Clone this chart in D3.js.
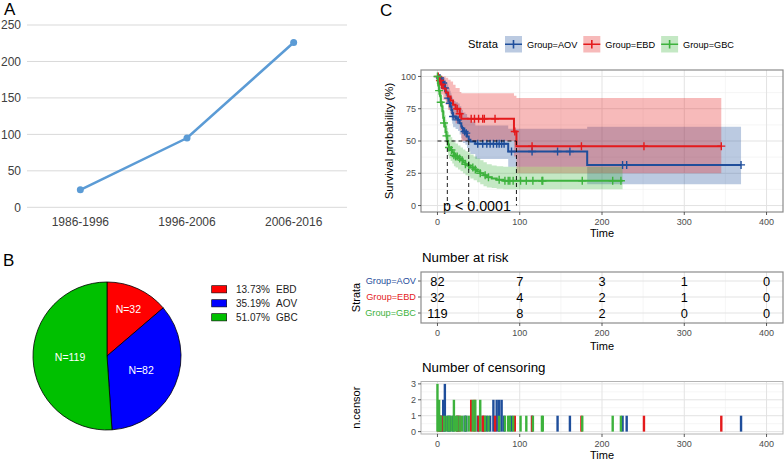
<!DOCTYPE html>
<html>
<head>
<meta charset="utf-8">
<script src="https://cdn.jsdelivr.net/npm/d3@7"></script>
<style>
  body { margin: 0; background: #fff; }
  svg { display: block; font-family: "Liberation Sans", Arial, sans-serif; }
</style>
</head>
<body>
<svg id="fig" width="784" height="460"></svg>
<script>
// panel A
const yearBins = ['1986-1996', '1996-2006', '2006-2016'];
const caseCounts = [24, 95, 226];

// panel B
const pieGroups = ['EBD', 'AOV', 'GBC'];
const pieCounts = [32, 82, 119];

// panel C - KM curves (time, survival %, lower / upper CI %)
const strata = ['Group=AOV', 'Group=EBD', 'Group=GBC'];
const aovTime = [0, 2, 4, 5, 6, 8, 9, 10, 11, 12, 13, 14, 15, 16, 17, 18, 19, 22, 25, 27, 29, 30, 31, 34, 36, 38, 40, 46, 86, 182];
const aovSurv = [100, 98.8, 97.5, 96.2, 94.9, 93.6, 91, 88.4, 87.1, 85.8, 83.2, 81.9, 79.3, 76.7, 74.1, 71.5, 69, 67.7, 66.4, 63.8, 61.2, 60, 57.4, 56.1, 53.5, 51, 49.6, 47.8, 41.9, 31.5];
const aovLower = [100, 96.4, 94.2, 92.2, 90.3, 88.5, 85.2, 82, 80.4, 78.9, 75.9, 74.4, 71.6, 68.8, 66, 63.3, 60.6, 59.2, 57.8, 55.1, 52.4, 51.1, 48.5, 47.1, 44.5, 41.9, 40, 36, 30, 16.5];
const aovUpper = [100, 100, 100, 99.9, 99.5, 99, 97.5, 95.8, 94.9, 94, 92, 91, 89, 87, 85, 83, 81, 80, 79, 77, 75, 74, 72, 71, 68.5, 66.5, 65, 62, 59.5, 61];
const aovEnd = 369;

const ebdTime = [0, 2, 4, 7, 10, 13, 16, 19, 22, 27, 29, 93, 96];
const ebdSurv = [100, 96.9, 93.8, 90.6, 87.5, 84.4, 81.3, 78.1, 75, 71.1, 67.2, 57.4, 46];
const ebdLower = [100, 91, 86, 82, 78, 74, 71, 67, 63.5, 58.5, 50, 38, 25];
const ebdUpper = [100, 100, 100, 100, 99, 97.5, 96, 93.5, 91, 88, 87, 85, 83.3];
const ebdEnd = 345;

const gbcTime = [0, 0.5, 1, 2, 3, 4, 5, 6, 7, 8, 9, 10, 11, 12, 13, 14, 16, 18, 20, 22, 25, 28, 31, 34, 37, 40, 44, 48, 52, 56, 60, 66, 72, 80];
const gbcSurv = [100, 95, 93, 89, 85, 80, 77, 73, 68, 64, 61, 57, 54, 50, 47, 45, 43, 41, 39, 38, 36.5, 35, 33.5, 32, 31, 29.5, 28, 26.5, 25, 23.5, 22, 21, 20, 19.2];
const gbcLower = [100, 91, 88.5, 83.5, 79, 73, 70, 65.5, 60, 56, 52.5, 48.5, 45.5, 41.5, 38.5, 36.5, 34.5, 32.5, 30.5, 29.5, 28, 26.5, 25, 23.5, 22.5, 21, 19.5, 18, 16.5, 15, 14, 13.5, 13, 12.7];
const gbcUpper = [100, 99, 98, 95, 91.5, 87.5, 85, 81, 77, 73, 70, 66.5, 63.5, 60, 57, 55, 53, 51, 49, 48, 46.5, 45, 43.5, 42, 41, 39.5, 38, 36.5, 35, 33.5, 32, 31, 30.5, 30];
const gbcEnd = 225;

// censoring: [time, count]
const aovCensor = [[3, 1], [5, 1], [7, 2], [9, 3], [13, 1], [15, 1], [19, 1], [25, 1], [33, 1], [35, 1], [49, 1], [55, 1], [60, 1], [64, 1], [68, 2], [72, 2], [75, 2], [78, 2], [81, 1], [90, 1], [115, 1], [146, 1], [161, 1], [225, 1], [230, 1], [369, 1]];
const ebdCensor = [[1, 1], [3, 1], [5, 1], [24, 1], [27, 1], [41, 2], [45, 2], [50, 1], [55, 1], [57, 1], [70, 1], [94, 1], [115, 1], [175, 1], [251, 1], [345, 1]];
const gbcCensor = [[0, 3], [2, 2], [4, 1], [8, 1], [11, 1], [14, 1], [17, 1], [20, 2], [22, 1], [24, 1], [27, 1], [30, 1], [34, 1], [38, 1], [43, 2], [46, 2], [52, 2], [58, 1], [62, 1], [75, 1], [82, 1], [86, 1], [88, 1], [92, 1], [101, 1], [108, 1], [116, 1], [127, 1], [128, 1], [176, 1], [213, 1], [223, 1]];

const medianTimes = [12, 38, 96];
const pValueText = 'p < 0.0001';

const riskTimes = [0, 100, 200, 300, 400];
const riskAOV = [82, 7, 3, 1, 0];
const riskEBD = [32, 4, 2, 1, 0];
const riskGBC = [119, 8, 2, 0, 0];

const groupColors = ['#1F4E9B', '#E41A1C', '#3DB23D'];

const svg = d3.select('#fig');

function panelLabel(txt, x, y) {
  svg.append('text').attr('x', x).attr('y', y).attr('font-size', 17).text(txt);
}

function drawLineChart() {
  const x = d3.scalePoint().domain(yearBins).range([27, 347]).padding(0.5);
  const y = d3.scaleLinear().domain([0, 250]).range([207.3, 25]);
  const g = svg.append('g');
  y.ticks(5).forEach(t => {
    g.append('line').attr('x1', 27).attr('x2', 347).attr('y1', y(t)).attr('y2', y(t))
      .attr('stroke', '#d9d9d9').attr('stroke-width', 1);
    g.append('text').attr('x', 21).attr('y', y(t) + 4.3).attr('text-anchor', 'end')
      .attr('font-size', 12).attr('fill', '#404040').text(t);
  });
  yearBins.forEach(b => {
    g.append('text').attr('x', x(b)).attr('y', 226).attr('text-anchor', 'middle')
      .attr('font-size', 12).attr('fill', '#404040').text(b);
  });
  const line = d3.line().x((d, i) => x(yearBins[i])).y(d => y(d));
  g.append('path').datum(caseCounts).attr('d', line).attr('fill', 'none')
    .attr('stroke', '#5B9BD5').attr('stroke-width', 2.5);
  g.selectAll('circle').data(caseCounts).join('circle')
    .attr('cx', (d, i) => x(yearBins[i])).attr('cy', d => y(d)).attr('r', 3.5)
    .attr('fill', '#5B9BD5');
  panelLabel('A', 4, 15);
}

function drawPie() {
  const colors = ['#FF0000', '#0000FF', '#00C000'];
  const total = d3.sum(pieCounts);
  const r = 74;
  const g = svg.append('g').attr('transform', 'translate(107,356)');
  const arcs = d3.pie().sort(null)(pieCounts);
  const arc = d3.arc().innerRadius(0).outerRadius(r);
  g.selectAll('path').data(arcs).join('path').attr('d', arc)
    .attr('fill', (d, i) => colors[i]).attr('stroke', '#000').attr('stroke-width', 0.8);
  arcs.forEach(a => {
    const small = a.value / total < 0.2;
    const lr = small ? r * 0.69 : r * 0.5;
    const mid = (a.startAngle + a.endAngle) / 2;
    g.append('text').attr('x', lr * Math.sin(mid)).attr('y', -lr * Math.cos(mid) + 3.8)
      .attr('text-anchor', 'middle').attr('font-size', 10.5).attr('fill', '#fff')
      .text('N=' + a.value);
  });
  pieGroups.forEach((grp, i) => {
    const yy = 289.3 + i * 14;
    svg.append('rect').attr('x', 211.7).attr('y', yy - 3.6).attr('width', 15).attr('height', 7.2)
      .attr('fill', colors[i]).attr('stroke', '#000').attr('stroke-width', 0.6);
    svg.append('text').attr('x', 236).attr('y', yy + 3.6).attr('font-size', 10).attr('fill', '#222')
      .text((pieCounts[i] / total * 100).toFixed(2) + '%');
    svg.append('text').attr('x', 276).attr('y', yy + 3.6).attr('font-size', 10).attr('fill', '#222')
      .text(grp);
  });
  panelLabel('B', 3, 266);
}

function survAt(times, surv, t) {
  let s = surv[0];
  times.forEach((tt, i) => { if (tt <= t) s = surv[i]; });
  return s;
}

function grid(g, x, y, x0, x1, y0, y1, xMajor, xMinor, yMajor, yMinor) {
  xMinor.forEach(t => g.append('line').attr('x1', x(t)).attr('x2', x(t)).attr('y1', y0).attr('y2', y1)
    .attr('stroke', '#f0f0f0').attr('stroke-width', 0.6));
  yMinor.forEach(t => g.append('line').attr('x1', x0).attr('x2', x1).attr('y1', y(t)).attr('y2', y(t))
    .attr('stroke', '#f0f0f0').attr('stroke-width', 0.6));
  xMajor.forEach(t => g.append('line').attr('x1', x(t)).attr('x2', x(t)).attr('y1', y0).attr('y2', y1)
    .attr('stroke', '#e3e3e3').attr('stroke-width', 1));
  yMajor.forEach(t => g.append('line').attr('x1', x0).attr('x2', x1).attr('y1', y(t)).attr('y2', y(t))
    .attr('stroke', '#e3e3e3').attr('stroke-width', 1));
}

function xAxisBottom(g, x, yb, title, titleY) {
  riskTimes.forEach(t => {
    g.append('line').attr('x1', x(t)).attr('x2', x(t)).attr('y1', yb).attr('y2', yb + 3)
      .attr('stroke', '#333').attr('stroke-width', 0.8);
    g.append('text').attr('x', x(t)).attr('y', yb + 12.5).attr('text-anchor', 'middle')
      .attr('font-size', 9).attr('fill', '#4d4d4d').text(t);
  });
  g.append('text').attr('x', (x.range()[0] + x.range()[1]) / 2).attr('y', titleY)
    .attr('text-anchor', 'middle').attr('font-size', 11).text(title);
}

function drawKM() {
  const x = d3.scaleLinear().domain([-20, 420]).range([421, 783]);
  const y = d3.scaleLinear().domain([-5, 105]).range([212, 70]);
  const g = svg.append('g');
  const x0 = 421, x1 = 783, y0 = 70, y1 = 212;
  grid(g, x, y, x0, x1, y0, y1, riskTimes, [50, 150, 250, 350], [0, 25, 50, 75, 100], [12.5, 37.5, 62.5, 87.5]);

  const curves = [
    { time: aovTime, surv: aovSurv, lo: aovLower, hi: aovUpper, end: aovEnd, cens: aovCensor },
    { time: ebdTime, surv: ebdSurv, lo: ebdLower, hi: ebdUpper, end: ebdEnd, cens: ebdCensor },
    { time: gbcTime, surv: gbcSurv, lo: gbcLower, hi: gbcUpper, end: gbcEnd, cens: gbcCensor }
  ];

  const area = d3.area().curve(d3.curveStepAfter)
    .x(d => x(d.t)).y0(d => y(d.lo)).y1(d => y(d.hi));
  const line = d3.line().curve(d3.curveStepAfter).x(d => x(d.t)).y(d => y(d.s));

  curves.forEach((c, k) => {
    const n = c.time.length - 1;
    const pts = c.time.map((t, i) => ({ t: t, s: c.surv[i], lo: c.lo[i], hi: c.hi[i] }))
      .concat([{ t: c.end, s: c.surv[n], lo: c.lo[n], hi: c.hi[n] }]);
    c.pts = pts;
    g.append('path').datum(pts).attr('d', area).attr('fill', groupColors[k]).attr('fill-opacity', 0.3);
  });
  curves.forEach((c, k) => {
    g.append('path').datum(c.pts).attr('d', line).attr('fill', 'none')
      .attr('stroke', groupColors[k]).attr('stroke-width', 2);
    c.cens.forEach(([t]) => {
      const cx = x(t), cy = y(survAt(c.time, c.surv, t));
      g.append('path').attr('d', `M${cx - 4},${cy}H${cx + 4}M${cx},${cy - 4}V${cy + 4}`)
        .attr('stroke', groupColors[k]).attr('stroke-width', 1.4);
    });
  });

  // median lines
  g.append('line').attr('x1', x(0)).attr('x2', x(d3.max(medianTimes))).attr('y1', y(50)).attr('y2', y(50))
    .attr('stroke', '#000').attr('stroke-width', 0.9).attr('stroke-dasharray', '4,3');
  medianTimes.forEach(m => {
    g.append('line').attr('x1', x(m)).attr('x2', x(m)).attr('y1', y(50)).attr('y2', y(0))
      .attr('stroke', '#000').attr('stroke-width', 0.9).attr('stroke-dasharray', '4,3');
  });
  g.append('text').attr('x', 443).attr('y', 211).attr('font-size', 14.3).text(pValueText);

  g.append('rect').attr('x', x0).attr('y', y0).attr('width', x1 - x0).attr('height', y1 - y0)
    .attr('fill', 'none').attr('stroke', '#8c8c8c').attr('stroke-width', 1.2);

  [0, 25, 50, 75, 100].forEach(t => {
    g.append('line').attr('x1', x0 - 3).attr('x2', x0).attr('y1', y(t)).attr('y2', y(t))
      .attr('stroke', '#333').attr('stroke-width', 0.8);
    g.append('text').attr('x', x0 - 5).attr('y', y(t) + 3.2).attr('text-anchor', 'end')
      .attr('font-size', 9).attr('fill', '#4d4d4d').text(t);
  });
  xAxisBottom(g, x, y1, 'Time', 237);
  g.append('text').attr('transform', `translate(393,${(y0 + y1) / 2}) rotate(-90)`)
    .attr('text-anchor', 'middle').attr('font-size', 11.4).text('Survival probability (%)');

  // legend
  const lg = svg.append('g');
  lg.append('text').attr('x', 468).attr('y', 48).attr('font-size', 11.2).text('Strata');
  let lx = 505;
  strata.forEach((s, k) => {
    lg.append('rect').attr('x', lx).attr('y', 36).attr('width', 17).attr('height', 16.5)
      .attr('fill', groupColors[k]).attr('fill-opacity', 0.3);
    lg.append('path').attr('d', `M${lx},44.2H${lx + 17}M${lx + 8.5},40V48.5`)
      .attr('stroke', groupColors[k]).attr('stroke-width', 1.6);
    const t = lg.append('text').attr('x', lx + 22).attr('y', 47.5).attr('font-size', 9.2).text(s);
    lx += 22 + t.node().getComputedTextLength() + 6;
  });

  panelLabel('C', 380, 16);
}

function drawRiskTable() {
  const x = d3.scaleLinear().domain([-20, 420]).range([421, 783]);
  const y = d3.scalePoint().domain(strata).range([281, 313]);
  const g = svg.append('g');
  const x0 = 421, x1 = 783, y0 = 272, y1 = 323;
  grid(g, x, y, x0, x1, y0, y1, riskTimes, [50, 150, 250, 350], strata, []);
  const rows = [riskAOV, riskEBD, riskGBC];
  rows.forEach((r, k) => {
    r.forEach((v, i) => {
      g.append('text').attr('x', x(riskTimes[i])).attr('y', y(strata[k]) + 4.6)
        .attr('text-anchor', 'middle').attr('font-size', 12.8).text(v);
    });
    g.append('line').attr('x1', x0 - 3).attr('x2', x0).attr('y1', y(strata[k])).attr('y2', y(strata[k]))
      .attr('stroke', '#333').attr('stroke-width', 0.8);
    g.append('text').attr('x', x0 - 5).attr('y', y(strata[k]) + 3.3).attr('text-anchor', 'end')
      .attr('font-size', 9.2).attr('fill', groupColors[k]).text(strata[k]);
  });
  g.append('rect').attr('x', x0).attr('y', y0).attr('width', x1 - x0).attr('height', y1 - y0)
    .attr('fill', 'none').attr('stroke', '#8c8c8c').attr('stroke-width', 1.2);
  xAxisBottom(g, x, y1, 'Time', 350);
  g.append('text').attr('x', 422).attr('y', 262).attr('font-size', 13.3).text('Number at risk');
  g.append('text').attr('transform', `translate(360,${(y0 + y1) / 2}) rotate(-90)`)
    .attr('text-anchor', 'middle').attr('font-size', 11).text('Strata');
}

function drawCensorPanel() {
  const x = d3.scaleLinear().domain([-20, 420]).range([421, 783]);
  const y = d3.scaleLinear().domain([-0.15, 3.15]).range([434, 381.5]);
  const g = svg.append('g');
  const x0 = 421, x1 = 783, y0 = 381.5, y1 = 434;
  grid(g, x, y, x0, x1, y0, y1, riskTimes, [50, 150, 250, 350], [0, 1, 2, 3], [0.5, 1.5, 2.5]);
  [aovCensor, ebdCensor, gbcCensor].forEach((cens, k) => {
    cens.forEach(([t, n]) => {
      g.append('rect').attr('x', x(t) - 1.2).attr('y', y(n)).attr('width', 2.4)
        .attr('height', y(0) - y(n)).attr('fill', groupColors[k]);
    });
  });
  g.append('rect').attr('x', x0).attr('y', y0).attr('width', x1 - x0).attr('height', y1 - y0)
    .attr('fill', 'none').attr('stroke', '#b3b3b3').attr('stroke-width', 1);
  [0, 1, 2, 3].forEach(t => {
    g.append('line').attr('x1', x0 - 3).attr('x2', x0).attr('y1', y(t)).attr('y2', y(t))
      .attr('stroke', '#333').attr('stroke-width', 0.8);
    g.append('text').attr('x', x0 - 5).attr('y', y(t) + 3.2).attr('text-anchor', 'end')
      .attr('font-size', 9).attr('fill', '#4d4d4d').text(t);
  });
  xAxisBottom(g, x, y1, 'Time', 459);
  g.append('text').attr('x', 422).attr('y', 372).attr('font-size', 13.3).text('Number of censoring');
  g.append('text').attr('transform', `translate(360,${(y0 + y1) / 2}) rotate(-90)`)
    .attr('text-anchor', 'middle').attr('font-size', 11).text('n.censor');
}

drawLineChart();
drawPie();
drawKM();
drawRiskTable();
drawCensorPanel();
</script>
</body>
</html>
